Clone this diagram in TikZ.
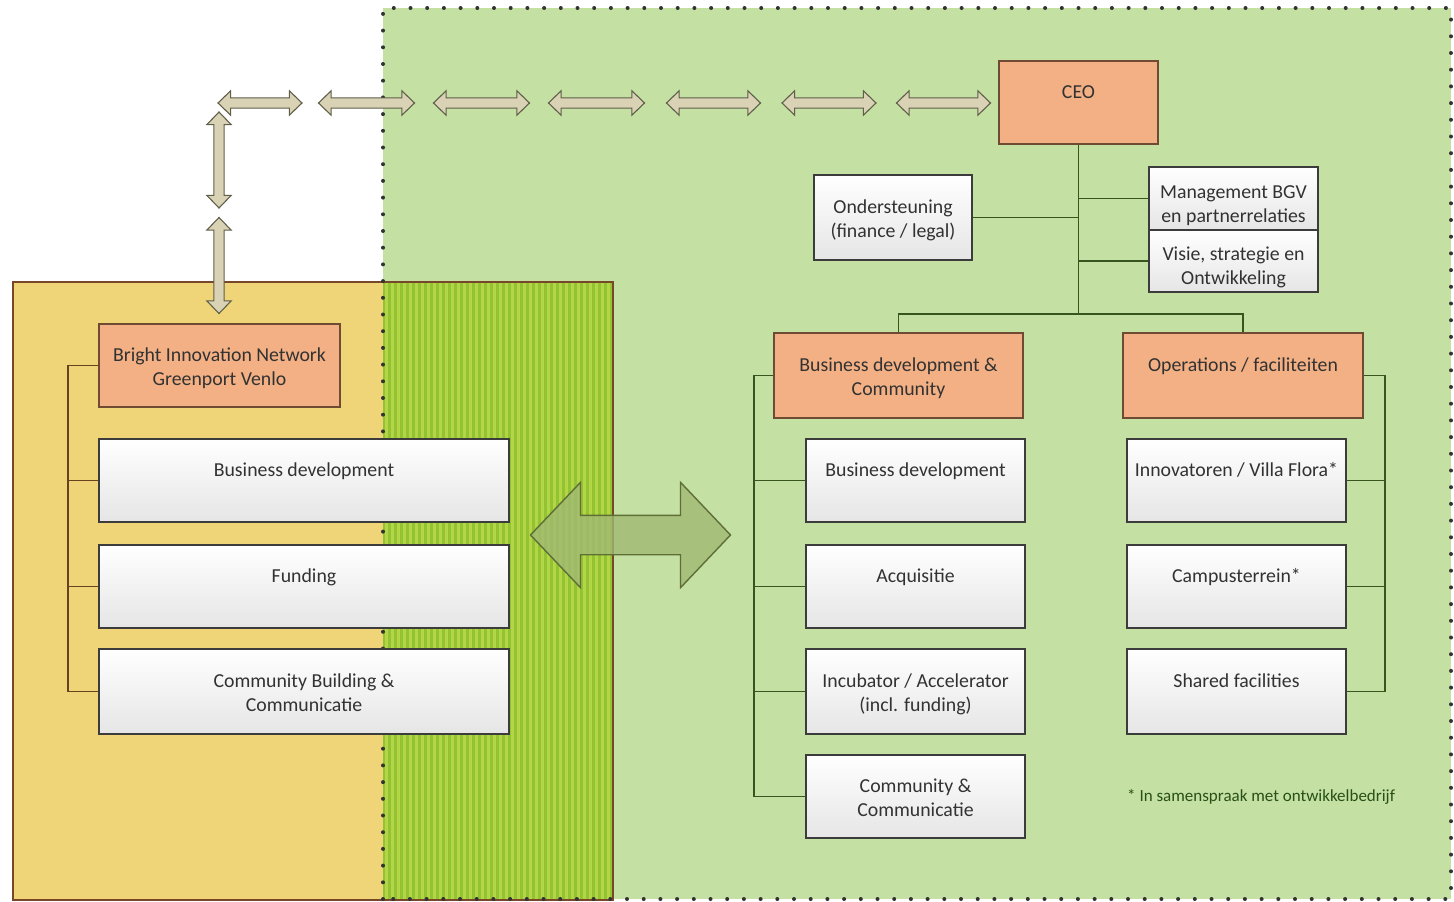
\documentclass[tikz,border=0pt]{standalone}
\usepackage{fontspec}
\setmainfont{Carlito}
\usetikzlibrary{shapes.arrows}
\definecolor{greenbg}{RGB}{196,224,162}
\definecolor{yellowbg}{RGB}{240,213,120}
\definecolor{stripeA}{RGB}{145,195,52}
\definecolor{stripeB}{RGB}{180,214,68}
\definecolor{orangebox}{RGB}{243,176,132}
\definecolor{orangeline}{RGB}{110,75,50}
\definecolor{boxline}{RGB}{60,60,60}
\definecolor{txt}{RGB}{50,50,50}
\definecolor{glink}{RGB}{55,85,30}
\definecolor{blink}{RGB}{105,65,30}
\definecolor{frameline}{RGB}{120,70,40}
\definecolor{arrfill}{RGB}{218,210,180}
\definecolor{arrline}{RGB}{95,95,75}
\definecolor{bigfill}{RGB}{160,185,115}
\definecolor{bigline}{RGB}{95,110,55}
\definecolor{notegreen}{RGB}{40,80,25}
\newcommand{\bxt}[2][23pt]{\rule{0pt}{#1}#2\rule[-7pt]{0pt}{7pt}}
\begin{document}
\begin{tikzpicture}[x=1pt,y=-1pt,
  every node/.style={font=\fontsize{19.8}{24}\selectfont, text=txt, align=center, inner sep=0pt},
  wbox/.style={draw=boxline, line width=1.2pt, top color=white, bottom color=black!10},
  obox/.style={draw=orangeline, line width=1.2pt, fill=orangebox},
  sarr/.style={double arrow, draw=arrline, fill=arrfill, line width=1.1pt,
     inner xsep=0pt, inner ysep=4.6pt, double arrow head extend=7pt,
     double arrow tip angle=88, minimum height=#1},
  glinks/.style={draw=glink, line width=1.4pt},
  blinks/.style={draw=blink, line width=1.4pt}]
\useasboundingbox (0,0) rectangle (1454,902);
% green area
\fill[greenbg] (383,8) rectangle (1451,899);
% yellow box
\fill[yellowbg] (13,282) rectangle (613,900);
% striped overlap
\fill[stripeA] (383,282) rectangle (613,900);
\foreach \i in {0,...,37} {\fill[stripeB] ({385+6*\i},282) rectangle ({388+6*\i},900);}
\draw[frameline, line width=1.2pt] (13,282) rectangle (613,900);
% dotted frame
\draw[black!80, line width=4pt, line cap=round, dash pattern=on 0pt off 16.7pt]
  (383,899) -- (383,8) -- (1451,8) -- (1451,899) -- cycle;
% small arrows
\node[sarr=84] (a1) at (260,103) {};
\node[sarr=96] (a2) at (366.5,103) {};
\node[sarr=96] (a3) at (481.5,103) {};
\node[sarr=96] (a4) at (596.5,103) {};
\node[sarr=94] (a5) at (713.5,103) {};
\node[sarr=94] (a6) at (829,103) {};
\node[sarr=94] (a7) at (943.5,103) {};
\node[sarr=96, rotate=90] (v1) at (219,160) {};
\node[sarr=96, rotate=90] (v2) at (219,265.5) {};
% right organisation
\node[obox, minimum width=159, minimum height=83] (ceo) at (1078.5,102.5) {\bxt{CEO\\ \strut}};
\node[wbox, minimum width=158, minimum height=85] (ond) at (893,217.5) {\bxt{Ondersteuning\\(finance / legal)}};
\node[wbox, minimum width=169, minimum height=63] (mgt) at (1233.5,198.5) {\bxt[30pt]{Management BGV\\en partnerrelaties}};
\node[wbox, minimum width=169, minimum height=62] (vis) at (1233.5,261) {\bxt[30pt]{Visie, strategie en\\Ontwikkeling}};
\node[obox, minimum width=249, minimum height=85] (bdc) at (898.5,375.5) {\bxt{Business development \&\\Community}};
\node[obox, minimum width=240, minimum height=85] (ops) at (1243,375.5) {\bxt{Operations / faciliteiten\\ \strut}};
\node[wbox, minimum width=219, minimum height=83] (r1) at (915.5,480.5) {\bxt{Business development\\ \strut}};
\node[wbox, minimum width=219, minimum height=83] (r2) at (915.5,586.5) {\bxt{Acquisitie\\ \strut}};
\node[wbox, minimum width=219, minimum height=85] (r3) at (915.5,691.5) {\bxt{Incubator / Accelerator\\(incl. funding)}};
\node[wbox, minimum width=219, minimum height=83] (r4) at (915.5,796.5) {\bxt{Community \&\\Communicatie}};
\node[wbox, minimum width=219, minimum height=83] (s1) at (1236.5,480.5) {\bxt{Innovatoren / Villa Flora*\\ \strut}};
\node[wbox, minimum width=219, minimum height=83] (s2) at (1236.5,586.5) {\bxt{Campusterrein*\\ \strut}};
\node[wbox, minimum width=219, minimum height=85] (s3) at (1236.5,691.5) {\bxt{Shared facilities\\ \strut}};
\node[anchor=west, text=notegreen, font=\fontsize{17}{20}\selectfont] (note) at (1127,797) {* In samenspraak met ontwikkelbedrijf};
% left organisation
\node[obox, minimum width=241, minimum height=83] (bin) at (219.5,365.5) {\bxt{Bright Innovation Network\\Greenport Venlo}};
\node[wbox, minimum width=410, minimum height=83] (l1) at (304,480.5) {\bxt{Business development\\ \strut}};
\node[wbox, minimum width=410, minimum height=83] (l2) at (304,586.5) {\bxt{Funding\\ \strut}};
\node[wbox, minimum width=410, minimum height=85] (l3) at (304,691.5) {\bxt{Community Building \&\\Communicatie}};
% connectors right
\coordinate (hub) at (1078.5,314);
\coordinate (lb) at (754,0);
\coordinate (rb) at (1385,0);
\coordinate (lbb) at (68,0);
\draw[glinks] (ceo.south) -- (hub);
\draw[glinks] (ond.east) -- (ond.east -| hub);
\draw[glinks] (mgt.west) -- (mgt.west -| hub);
\draw[glinks] (vis.west) -- (vis.west -| hub);
\draw[glinks] (bdc.north) |- (hub) -| (ops.north);
\draw[glinks] (bdc.west) -| (lb |- r4.west) -- (r4.west);
\foreach \n in {r1,r2,r3} \draw[glinks] (\n.west) -- (\n.west -| lb);
\draw[glinks] (ops.east) -| (rb |- s3.east) -- (s3.east);
\foreach \n in {s1,s2} \draw[glinks] (\n.east) -- (\n.east -| rb);
% connectors left
\draw[blinks] (bin.west) -| (lbb |- l3.west) -- (l3.west);
\foreach \n in {l1,l2} \draw[blinks] (\n.west) -- (\n.west -| lbb);
% big arrow
\node[double arrow, draw=bigline, fill=bigfill, fill opacity=0.8, line width=1.4pt,
  inner xsep=0pt, inner ysep=19pt, double arrow head extend=33pt,
  double arrow tip angle=93, minimum height=200] (big) at (630.5,535) {};
\end{tikzpicture}
\end{document}
